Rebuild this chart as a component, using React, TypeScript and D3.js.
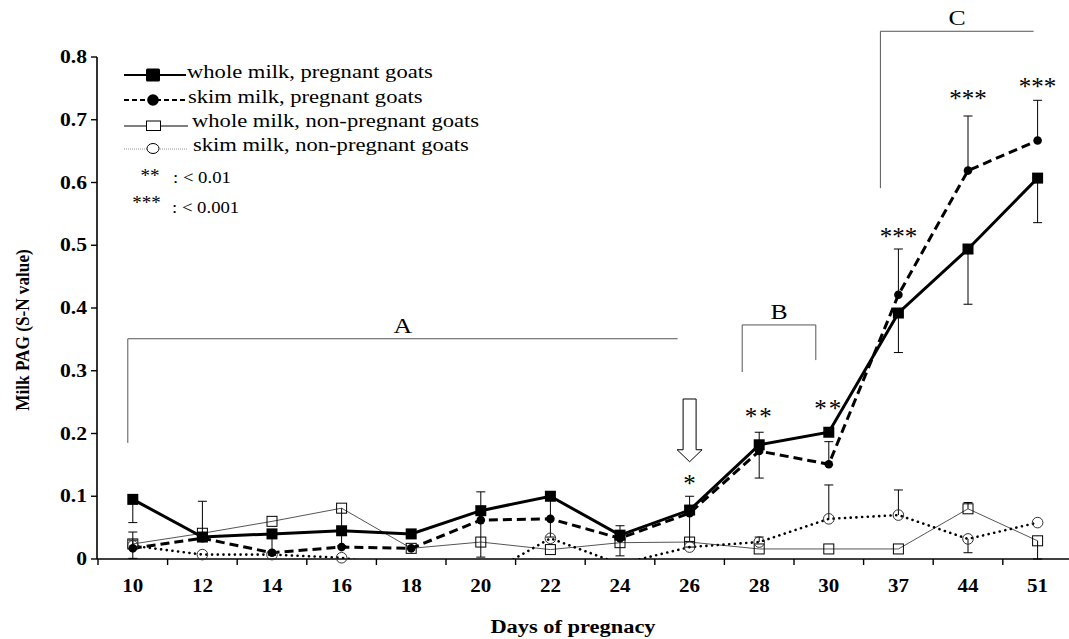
import React from "react";
import * as d3 from "d3";

// ---------- data ----------
const categories = ["10", "12", "14", "16", "18", "20", "22", "24", "26", "28", "30", "37", "44", "51"];
const wholePreg = [0.095, 0.035, 0.04, 0.045, 0.04, 0.077, 0.1, 0.038, 0.078, 0.182, 0.202, 0.392, 0.494, 0.607];
const skimPreg = [0.017, 0.033, 0.01, 0.019, 0.017, 0.062, 0.064, 0.033, 0.073, 0.172, 0.151, 0.421, 0.619, 0.667];
const wholeNon = [0.024, 0.041, 0.06, 0.081, 0.017, 0.027, 0.015, 0.026, 0.027, 0.016, 0.016, 0.016, 0.08, 0.029];
const skimNon = [0.021, 0.007, 0.007, 0.002, -0.015, -0.03, 0.033, -0.008, 0.019, 0.027, 0.064, 0.07, 0.032, 0.058];
// signed error bars: positive = drawn upward, negative = drawn downward
const wholePregErr = [-0.037, 0, -0.03, 0, 0, -0.074, -0.065, -0.033, -0.05, -0.053, 0, -0.063, -0.088, -0.071];
const skimPregErr = [0.026, 0, 0, 0, 0, 0.045, 0, 0.02, 0.027, 0.03, 0.036, 0.073, 0.087, 0.064];
const wholeNonErr = [0.006, 0.051, 0, -0.06, 0, 0, 0, 0, 0, 0, 0, 0, 0.01, -0.029];
const skimNonErr = [-0.02, 0, 0, 0, 0, 0, 0, 0, 0, 0.008, 0.054, 0.04, -0.022, 0];

const yTicks = [0, 0.1, 0.2, 0.3, 0.4, 0.5, 0.6, 0.7, 0.8];
const yTickLabels = ["0", "0.1", "0.2", "0.3", "0.4", "0.5", "0.6", "0.7", "0.8"];

const sigMarks = ["", "", "", "", "", "", "", "", "*", "**", "**", "***", "***", "***"];
const sigLevels = [0, 0, 0, 0, 0, 0, 0, 0, 0.126, 0.233, 0.245, 0.52, 0.739, 0.759];

const bracketLabels = ["A", "B", "C"];
const bracketStart = ["10", "28", "37"];
const bracketEnd = ["26", "30", "51"];
const bracketTop = [0.351, 0.373, 0.841];
const bracketLeftBottom = [0.185, 0.298, 0.591];
const bracketRightBottom = [null, 0.317, null];

const arrowCategory = "26";
const arrowFrom = 0.255;
const arrowTo = 0.155;

const legendLabels = [
  "whole milk, pregnant goats",
  "skim milk, pregnant goats",
  "whole milk, non-pregnant goats",
  "skim milk, non-pregnant goats",
];
const legendSig = ["**", "***"];
const legendSigText = [": < 0.01", ": < 0.001"];

const xTitle = "Days of pregnacy";
const yTitle = "Milk PAG (S-N value)";

// ---------- layout / style ----------
const W = 1069;
const H = 639;
const FONT = "'Times New Roman', 'Liberation Serif', serif";
const SX = 1.17; // horizontal text stretch seen in the reference

const bracketOffsets = [
  [-5, -12],
  [-17, -13],
  [-18, -4],
];

function T(props: {
  x: number;
  y: number;
  size: number;
  anchor?: string;
  weight?: string | number;
  sx?: number;
  ls?: number;
  children: React.ReactNode;
}) {
  const { x, y, size, anchor = "start", weight = "normal", sx = SX, ls = 0, children } = props;
  return (
    <text
      transform={`translate(${x},${y}) scale(${sx},1)`}
      fontSize={size}
      fontFamily={FONT}
      fontWeight={weight}
      textAnchor={anchor}
      letterSpacing={ls}
      fill="#000"
    >
      {children}
    </text>
  );
}

export default function App() {
  const x = d3.scaleBand<string>().domain(categories).range([98, 1072.4]).padding(0);
  const xc = (c: string) => (x(c) as number) + x.bandwidth() / 2;
  const y = d3.scaleLinear().domain([0, 0.8]).range([559, 57]);

  const mk = (vals: number[]) => categories.map((c, i) => [c, vals[i]] as [string, number]);
  const line = d3
    .line<[string, number]>()
    .x((d) => xc(d[0]))
    .y((d) => y(d[1]));

  const errBars = (vals: number[], errs: number[], key: string) =>
    categories.map((c, i) => {
      const e = errs[i];
      if (!e) return null;
      const cx = xc(c);
      const y0 = y(vals[i]);
      const y1 = y(vals[i] + e);
      return (
        <g key={key + c} stroke="#000" strokeWidth={1}>
          <line x1={cx} x2={cx} y1={y0} y2={y1} />
          <line x1={cx - 4.5} x2={cx + 4.5} y1={y1} y2={y1} />
        </g>
      );
    });

  const yAxisX = 97;
  const baseY = y(0);

  return (
    <svg
      width={W}
      height={H}
      style={{ position: "absolute", left: 0, top: 0, background: "#fff" }}
      fontFamily={FONT}
    >
      <defs>
        <clipPath id="plotclip">
          <rect x={yAxisX} y={0} width={W} height={baseY} />
        </clipPath>
      </defs>
      <rect x={0} y={0} width={W} height={H} fill="#fff" />

      {/* brackets */}
      {bracketLabels.map((lab, i) => {
        const x1 = xc(bracketStart[i]) + bracketOffsets[i][0];
        const x2 = xc(bracketEnd[i]) + bracketOffsets[i][1];
        const yt = y(bracketTop[i]);
        const rb = bracketRightBottom[i];
        return (
          <g key={"br" + lab}>
            <path
              d={`M${x1},${y(bracketLeftBottom[i])}V${yt}H${x2}` + (rb != null ? `V${y(rb)}` : "")}
              fill="none"
              stroke="#555"
              strokeWidth={1}
            />
            <T x={(x1 + x2) / 2} y={yt - 6} size={22} anchor="middle">
              {lab}
            </T>
          </g>
        );
      })}

      {/* arrow */}
      {(() => {
        const cx = xc(arrowCategory);
        const yt = y(arrowFrom);
        const tip = y(arrowTo);
        const neck = tip - 12;
        return (
          <path
            d={`M${cx - 6.5},${yt}H${cx + 6.5}V${neck}H${cx + 12.5}L${cx},${tip}L${cx - 12.5},${neck}H${cx - 6.5}Z`}
            fill="#fff"
            stroke="#000"
            strokeWidth={1}
          />
        );
      })()}

      {/* axes */}
      <line x1={yAxisX} x2={yAxisX} y1={y(0.8)} y2={baseY} stroke="#000" strokeWidth={1.6} />
      {yTicks.map((t, i) => (
        <g key={"yt" + i}>
          <line x1={yAxisX - 6} x2={yAxisX} y1={y(t)} y2={y(t)} stroke="#000" strokeWidth={1.4} />
          <T x={87} y={y(t) + 6} size={18.5} anchor="end" weight="bold">
            {yTickLabels[i]}
          </T>
        </g>
      ))}
      <line x1={yAxisX} x2={W + 10} y1={baseY} y2={baseY} stroke="#000" strokeWidth={1.6} />
      {categories.map((c) => (
        <line
          key={"xt" + c}
          x1={x(c) as number}
          x2={x(c) as number}
          y1={baseY}
          y2={baseY + 6}
          stroke="#000"
          strokeWidth={1.4}
        />
      ))}
      {categories.map((c) => (
        <T key={"xl" + c} x={xc(c)} y={592} size={18} anchor="middle" weight="bold">
          {c}
        </T>
      ))}
      <T x={573} y={633} size={19.5} anchor="middle" weight="bold" sx={1.15}>
        {xTitle}
      </T>
      <text
        transform={`translate(29,330) rotate(-90) scale(1,1.15)`}
        fontSize={17.2}
        fontFamily={FONT}
        fontWeight="bold"
        textAnchor="middle"
      >
        {yTitle}
      </text>

      {/* series lines */}
      <g clipPath="url(#plotclip)" fill="none">
        <path d={line(mk(wholeNon)) as string} stroke="#555" strokeWidth={1} />
        <path
          d={line(mk(skimNon)) as string}
          stroke="#000"
          strokeWidth={2.6}
          strokeDasharray="0.1,5.6"
          strokeLinecap="round"
        />
        <path d={line(mk(skimPreg)) as string} stroke="#000" strokeWidth={3} strokeDasharray="9,5" />
        <path d={line(mk(wholePreg)) as string} stroke="#000" strokeWidth={3} />
      </g>

      {/* error bars */}
      {errBars(wholeNon, wholeNonErr, "ewn")}
      {errBars(skimNon, skimNonErr, "esn")}
      {errBars(skimPreg, skimPregErr, "esp")}
      {errBars(wholePreg, wholePregErr, "ewp")}

      {/* markers */}
      {categories.map((c, i) =>
        wholeNon[i] >= 0 ? (
          <rect
            key={"mwn" + c}
            x={xc(c) - 5}
            y={y(wholeNon[i]) - 5}
            width={10}
            height={10}
            fill="none"
            stroke="#000"
            strokeWidth={1}
          />
        ) : null
      )}
      {categories.map((c, i) =>
        skimNon[i] >= 0 ? (
          <circle key={"msn" + c} cx={xc(c)} cy={y(skimNon[i])} r={5.3} fill="none" stroke="#333" strokeWidth={1} />
        ) : null
      )}
      {categories.map((c, i) => (
        <circle key={"msp" + c} cx={xc(c)} cy={y(skimPreg[i])} r={4.3} fill="#000" />
      ))}
      {categories.map((c, i) => (
        <rect key={"mwp" + c} x={xc(c) - 5.5} y={y(wholePreg[i]) - 5.5} width={11} height={11} fill="#000" />
      ))}

      {/* significance marks */}
      {categories.map((c, i) =>
        sigMarks[i] ? (
          <T
            key={"sig" + c}
            x={xc(c)}
            y={y(sigLevels[i]) + 12}
            size={25}
            anchor="middle"
            sx={1.0}
            ls={sigMarks[i].length === 2 ? 2 : 0}
          >
            {sigMarks[i]}
          </T>
        ) : null
      )}

      {/* legend */}
      <g>
        <line x1={124} x2={186} y1={75} y2={75} stroke="#000" strokeWidth={2.2} />
        <rect x={146} y={68.5} width={14} height={13} fill="#000" rx={1.5} />
        <T x={187} y={78} size={19.3}>{legendLabels[0]}</T>

        <line x1={124} x2={186} y1={100} y2={100} stroke="#000" strokeWidth={2.2} strokeDasharray="5,3" />
        <circle cx={153} cy={100} r={5.8} fill="#000" />
        <T x={188} y={103} size={19.3}>{legendLabels[1]}</T>

        <line x1={124} x2={188} y1={126} y2={126} stroke="#000" strokeWidth={1} />
        <rect x={146.5} y={121} width={14} height={9.5} fill="#fff" stroke="#000" strokeWidth={1} />
        <T x={192} y={127} size={19.3}>{legendLabels[2]}</T>

        <line x1={124} x2={187} y1={149} y2={149} stroke="#999" strokeWidth={1} strokeDasharray="1,1" />
        <ellipse cx={153} cy={148.5} rx={6} ry={5} fill="#fff" stroke="#000" strokeWidth={1} />
        <T x={193} y={151} size={19.3}>{legendLabels[3]}</T>

        <T x={150} y={182} size={19} anchor="middle" sx={1.0}>{legendSig[0]}</T>
        <T x={173} y={182.5} size={16}>{legendSigText[0]}</T>
        <T x={146.5} y={209} size={19} anchor="middle" sx={1.0}>{legendSig[1]}</T>
        <T x={172} y={212.5} size={16}>{legendSigText[1]}</T>
      </g>
    </svg>
  );
}
